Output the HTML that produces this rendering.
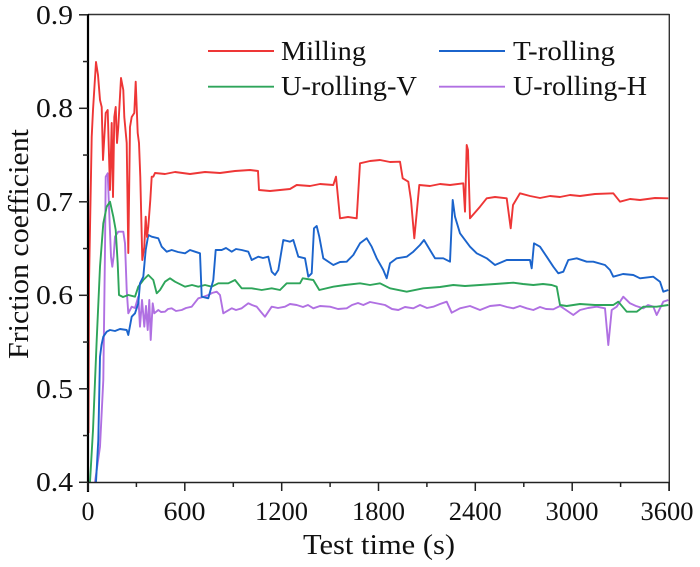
<!DOCTYPE html>
<html><head><meta charset="utf-8">
<style>
html,body{margin:0;padding:0;background:#fff;}
svg{display:block;}
text{font-family:"Liberation Serif","Times New Roman",serif;fill:#111;}
</style></head>
<body>
<svg width="700" height="567" viewBox="0 0 700 567" xmlns="http://www.w3.org/2000/svg">
<defs><clipPath id="pc"><rect x="88" y="14" width="582" height="469"/></clipPath></defs>
<rect width="700" height="567" fill="#fff"/>
<g clip-path="url(#pc)" fill="none" stroke-width="1.9" stroke-linejoin="round">
<polyline stroke="#b070e2" points="95,482 100,446.7 103.3,380 105,250 105.7,176.7 107.7,173.3 109,206.7 111,256.7 112.3,266.7 113.7,256 115,236.7 118.3,231.7 123.3,231.7 125,243.3 126.7,290 128.3,313.3 131.7,306.7 135,308 138.3,296.7 140,326.7 142,300 144.3,326.7 146,306 147.7,330 149.3,300 150.7,340 152.7,303.3 154.3,313.3 158.3,310 161,312 165,311.7 168,309 171.7,308.3 176,311 181.7,310 186,308 191.7,306.7 198.3,298.3 203,297 208.3,295 212,293 216.7,291.7 220,295 223.3,313.3 231.7,308.3 236,310 241.7,308.3 248.3,303.3 252,305 256.7,306.7 261,312 265,316.7 271.7,306.7 278,308 285,306.7 290,304 296.7,305 303,307 308,305 313.3,308.3 320,306 330,306.7 338,309 346.7,308.3 352,305 358,303 363.3,305 370,302 380,304 385,305 392,309 398.3,310 405,307 413.3,308.3 420,305 427,308 433.3,306.7 440,304 446.7,301.7 451.7,312.7 460,308.3 470,306 480,310 490,306 500,305 507,307 513.3,308.3 520,306 526.7,308.3 533.3,310 540,307 546,309 553.3,309.3 560,306 566,310 573.3,315 580,310 588,308 596.7,306.7 605,308.3 608.3,345 611.7,310 616.7,306.7 623.3,296.7 630,303.3 636,306 643.3,308.3 648,305 653.3,306.7 656.7,315 663.3,301.7 668.3,300"/>
<polyline stroke="#2ea55a" points="90,482 93,430 96.7,340 100,266.7 103.3,223.3 106.7,206.7 110,201.7 113.3,216.7 115.7,230 117.7,263.3 119,295 123,297 128.3,295 135,296.7 138.3,286.7 143.3,280 148.3,275 153.3,280 156.7,293.3 160,290 165,281.7 170,278.3 175,281.7 185,286.7 192,285 198.3,286.7 205,285 211.7,286.7 218.3,283.3 228.3,283.3 235,280 241.7,288.3 251.7,288.3 261.7,290 271.7,288.3 280,290 286.7,283.3 300,283.3 302.7,278.3 313.3,280 319.3,290 333.3,286.7 345,285 360,283.3 370,285 380,283.3 390,288.3 406.7,291.7 423.3,288.3 440,287 453.3,285 465,286 480,285 495,284 513.3,282.7 523,284 533.3,285 543,284 551.7,285 556.7,286.7 560,305 566.7,306 580,304 595,305 613.3,305 618.3,301.7 626.7,311.7 636.7,311.7 643.3,306.7 656.7,306.7 668.3,305"/>
<polyline stroke="#1b64cc" points="96,482 98.3,440 100,356.7 101.5,345 103.3,336.7 106.7,331.7 110,330 115,331 120,329 126.7,330 128.3,335 131.7,316.7 135,313.3 138.3,303.3 140,283.3 143.3,276.7 145.7,250 148.3,235 151.7,236.7 158.3,238.3 161.7,246.7 166.7,251.7 171.7,250 178,252 185,253.3 190,250 195,251.7 200,253.3 201.7,296.7 208.3,298.3 213.3,280 215.7,250 221.7,250 226,248 231.7,251.7 236,249 241.7,250 248.3,251.7 251.7,260 258.3,256.7 263,258 268.3,256.7 271.7,271.7 275,275 278.3,270 283.3,240 290,241.7 293.3,240 298.3,256.7 305,258.3 308.3,276.7 311.7,273.3 314,228.3 316.7,226 319.3,236.7 323.3,258.3 333.3,265 340,262 346.7,261.7 353.3,255 360,243.3 366.7,238.3 371.7,246.7 376.7,258.3 383.3,270 386.7,278.3 390,263.3 396.7,258.3 406.7,256.7 413.3,251.7 420,245 424,240 430,250 435,258.3 443.3,258.3 450,261.7 452.7,200 455,216.7 460,233.3 470,246.7 476.7,253.3 486.7,258.3 495,265 506.7,260 520,260 530,260 531.7,268.3 534,243.3 540,246.7 546.7,256.7 553.3,266.7 558.3,273.3 563.3,271.7 568.3,260 576.7,258.3 586.7,261.7 593.3,261.7 605,265 610,270 613.3,276.7 623,274 633.3,275 640,278.3 653.3,276.7 660,281.7 663.3,291.7 668.3,290"/>
<polyline stroke="#ee3636" points="88.5,433 89,283 91.7,137 93,110 96,62 98,75 100,100 101.7,107 103,160 105.7,113 107.7,110 110,190 111.7,123 113,197 114.3,117 115.7,107 117,143 118.3,127 121,78 123.3,90 124.3,117 126.7,143 128.3,253 130,127 131.7,117 134.3,113 135.7,81.7 137.7,133 139,143 140.3,177 142.3,260 144.3,247 145.7,216.7 147,237 148.3,226.7 150.3,200 151.7,176.7 153.3,176.7 155,173 165,174 175,172 190,174 205,172 220,173 235,171 250,170 258,171 259,190 270,191 280,190 290,189 296.7,185 310,186 320,184 333.3,185 336,176.7 340,218.3 348,217 356.7,218.3 360,163.3 370,161 380,160 390,162 400,161.7 402.7,178.3 408.3,181.7 411,200 414.3,238.3 416.5,215 419.3,185 430,186 440,184 450,185 463.3,183.3 465,211.7 466.7,145 468,150 470,218.3 480,206.7 486.7,198.3 495,197 506.7,198.3 510.7,228.3 513,205 520,193.3 530,196 540,198 550,196 560,197 570,195 580,196 595,194 613.3,193.3 620,201.7 630,199 640,200 655,198 668.3,198.3"/>
</g>
<!-- frame -->
<line x1="88" y1="14.5" x2="669.5" y2="14.5" stroke="#333" stroke-width="1.4"/>
<line x1="669.3" y1="14" x2="669.3" y2="491" stroke="#333" stroke-width="1.4"/>
<line x1="88" y1="482.5" x2="670" y2="482.5" stroke="#222" stroke-width="1.6"/>
<line x1="88" y1="14" x2="88" y2="492" stroke="#000" stroke-width="2.2"/>
<g stroke="#222" stroke-width="1.5">
<line x1="79" y1="482.3" x2="88" y2="482.3"/>
<line x1="83" y1="435.55" x2="88" y2="435.55"/>
<line x1="79" y1="388.8" x2="88" y2="388.8"/>
<line x1="83" y1="342.05" x2="88" y2="342.05"/>
<line x1="79" y1="295.3" x2="88" y2="295.3"/>
<line x1="83" y1="248.55" x2="88" y2="248.55"/>
<line x1="79" y1="201.8" x2="88" y2="201.8"/>
<line x1="83" y1="155.05" x2="88" y2="155.05"/>
<line x1="79" y1="108.3" x2="88" y2="108.3"/>
<line x1="83" y1="61.55" x2="88" y2="61.55"/>
<line x1="79" y1="14.8" x2="88" y2="14.8"/>
<line x1="88" y1="482.5" x2="88" y2="491"/>
<line x1="136.4" y1="482.5" x2="136.4" y2="487"/>
<line x1="184.8" y1="482.5" x2="184.8" y2="491"/>
<line x1="233.3" y1="482.5" x2="233.3" y2="487"/>
<line x1="281.7" y1="482.5" x2="281.7" y2="491"/>
<line x1="330.1" y1="482.5" x2="330.1" y2="487"/>
<line x1="378.5" y1="482.5" x2="378.5" y2="491"/>
<line x1="426.9" y1="482.5" x2="426.9" y2="487"/>
<line x1="475.3" y1="482.5" x2="475.3" y2="491"/>
<line x1="523.8" y1="482.5" x2="523.8" y2="487"/>
<line x1="572.2" y1="482.5" x2="572.2" y2="491"/>
<line x1="620.6" y1="482.5" x2="620.6" y2="487"/>
<line x1="669" y1="482.5" x2="669" y2="491"/>
</g>
<!-- y labels -->
<g font-size="27" text-anchor="end">
<text x="73" y="24" textLength="37" lengthAdjust="spacingAndGlyphs">0.9</text>
<text x="73" y="117" textLength="37" lengthAdjust="spacingAndGlyphs">0.8</text>
<text x="73" y="211" textLength="37" lengthAdjust="spacingAndGlyphs">0.7</text>
<text x="73" y="304" textLength="37" lengthAdjust="spacingAndGlyphs">0.6</text>
<text x="73" y="398" textLength="37" lengthAdjust="spacingAndGlyphs">0.5</text>
<text x="73" y="491" textLength="37" lengthAdjust="spacingAndGlyphs">0.4</text>
</g>
<!-- x labels -->
<g font-size="26" text-anchor="middle">
<text x="88" y="520">0</text>
<text x="184.5" y="520" textLength="42" lengthAdjust="spacingAndGlyphs">600</text>
<text x="281.5" y="520" textLength="53" lengthAdjust="spacingAndGlyphs">1200</text>
<text x="378.5" y="520" textLength="53" lengthAdjust="spacingAndGlyphs">1800</text>
<text x="475.3" y="520" textLength="53" lengthAdjust="spacingAndGlyphs">2400</text>
<text x="572" y="520" textLength="53" lengthAdjust="spacingAndGlyphs">3000</text>
<text x="667" y="520" textLength="53" lengthAdjust="spacingAndGlyphs">3600</text>
</g>
<text x="303" y="554" font-size="29" textLength="152" lengthAdjust="spacingAndGlyphs">Test time (s)</text>
<text transform="translate(28,244) rotate(-90)" font-size="29" text-anchor="middle" textLength="230" lengthAdjust="spacingAndGlyphs">Friction coefficient</text>
<!-- legend -->
<line x1="208" y1="51" x2="274" y2="51" stroke="#ee3636" stroke-width="1.9"/>
<line x1="439" y1="51" x2="505" y2="51" stroke="#1b64cc" stroke-width="1.9"/>
<line x1="208" y1="86.7" x2="274" y2="86.7" stroke="#2ea55a" stroke-width="1.9"/>
<line x1="439" y1="86.7" x2="505" y2="86.7" stroke="#b070e2" stroke-width="1.9"/>
<g font-size="27">
<text x="281" y="60" textLength="85" lengthAdjust="spacingAndGlyphs">Milling</text>
<text x="513" y="60" textLength="102" lengthAdjust="spacingAndGlyphs">T-rolling</text>
<text x="281" y="95" textLength="136" lengthAdjust="spacingAndGlyphs">U-rolling-V</text>
<text x="513" y="95" textLength="134" lengthAdjust="spacingAndGlyphs">U-rolling-H</text>
</g>
</svg>
</body></html>
